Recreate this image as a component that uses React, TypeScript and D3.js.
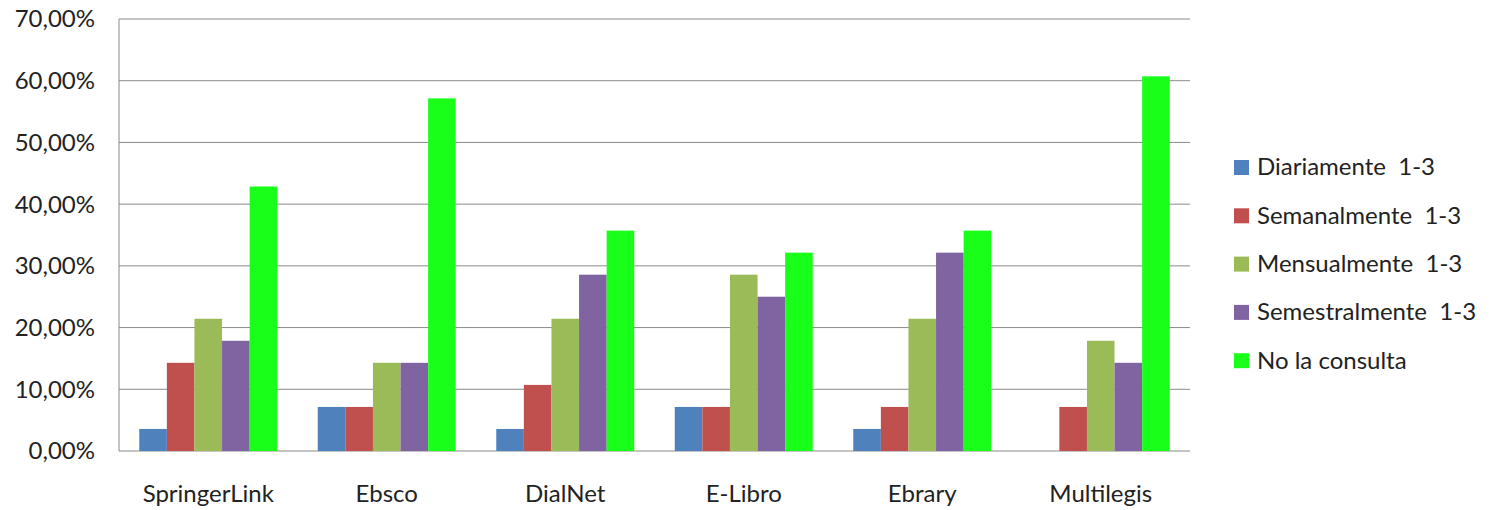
import React from 'react';
import { scaleBand, scaleLinear } from 'd3';

const categories = ['SpringerLink', 'Ebsco', 'DialNet', 'E-Libro', 'Ebrary', 'Multilegis'];
const seriesNames = [
  'Diariamente  1-3',
  'Semanalmente  1-3',
  'Mensualmente  1-3',
  'Semestralmente  1-3',
  'No la consulta',
];
const seriesColors = ['#4f81bd', '#c0504d', '#9bbb59', '#8064a2', '#19ff19'];

// values in percent, one array per series
const diariamente = [3.57, 7.14, 3.57, 7.14, 3.57, 0];
const semanalmente = [14.29, 7.14, 10.71, 7.14, 7.14, 7.14];
const mensualmente = [21.43, 14.29, 21.43, 28.57, 21.43, 17.86];
const semestralmente = [17.86, 14.29, 28.57, 25.0, 32.14, 14.29];
const noConsulta = [42.86, 57.14, 35.71, 32.14, 35.71, 60.71];
const seriesValues = [diariamente, semanalmente, mensualmente, semestralmente, noConsulta];

const yTicks = [0, 10, 20, 30, 40, 50, 60, 70];

const dims = {
  width: 1490,
  height: 510,
  left: 119,
  right: 1190,
  top: 19,
  bottom: 451,
};

const font = 'Lato, "Open Sans", sans-serif';

const App = () => {
  const x = scaleBand<string>()
    .domain(categories)
    .range([dims.left, dims.right])
    .paddingInner(0.227)
    .paddingOuter(0.1135);
  const inner = scaleBand<number>()
    .domain(seriesNames.map((_, i) => i))
    .range([0, x.bandwidth()]);
  const y = scaleLinear().domain([0, 70]).range([dims.bottom, dims.top]);

  const fmt = (v: number) => v.toFixed(2).replace('.', ',') + '%';

  return (
    <svg
      width={dims.width}
      height={dims.height}
      style={{ position: 'absolute', left: 0, top: 0, background: '#fff' }}
    >
      {yTicks.map((t) => (
        <g key={t}>
          <line
            x1={dims.left}
            x2={dims.right}
            y1={y(t)}
            y2={y(t)}
            stroke="#8a8a8a"
            strokeWidth={1}
          />
          <text
            x={95}
            y={y(t)}
            dy="0.35em"
            textAnchor="end"
            fontFamily={font}
            fontSize={24}
            fill="#222"
          >
            {fmt(t)}
          </text>
        </g>
      ))}
      <line x1={dims.left} x2={dims.left} y1={dims.top} y2={dims.bottom} stroke="#8a8a8a" />

      {categories.map((c, ci) => (
        <g key={c}>
          {seriesValues.map((vals, si) =>
            vals[ci] > 0 ? (
              <rect
                key={si}
                x={(x(c) as number) + (inner(si) as number)}
                y={y(vals[ci])}
                width={inner.bandwidth()}
                height={y(0) - y(vals[ci])}
                fill={seriesColors[si]}
              />
            ) : null
          )}
          <text
            x={(x(c) as number) + x.bandwidth() / 2}
            y={494}
            dy="0.35em"
            textAnchor="middle"
            fontFamily={font}
            fontSize={24}
            fill="#222"
          >
            {c}
          </text>
        </g>
      ))}

      {seriesNames.map((s, i) => (
        <g key={s} transform={`translate(1234, ${167 + i * 48.3})`}>
          <rect x={0} y={-7} width={15} height={15} fill={seriesColors[i]} />
          <text
            x={23}
            y={0}
            dy="0.35em"
            fontFamily={font}
            fontSize={24}
            fill="#222"
            style={{ whiteSpace: 'pre' }}
          >
            {s}
          </text>
        </g>
      ))}
    </svg>
  );
};

export default App;
